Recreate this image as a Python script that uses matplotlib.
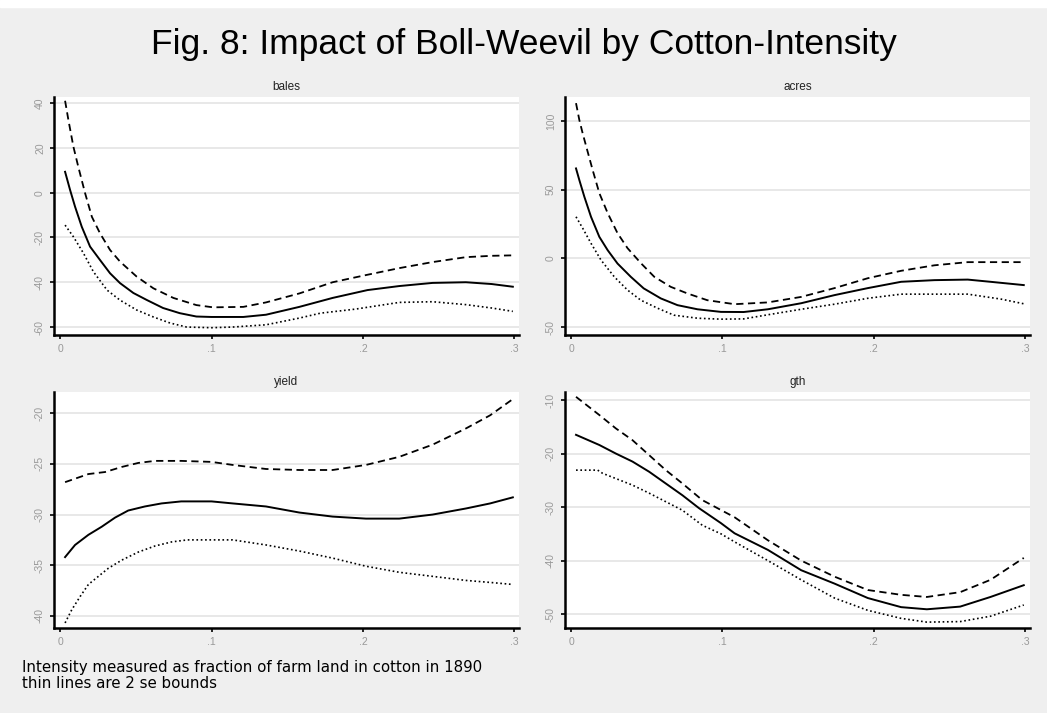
import numpy as np
import matplotlib
matplotlib.use('Agg')
import matplotlib.pyplot as plt
from matplotlib.patches import Rectangle

# values (each series has its own x points)
bales_est_x = [0.0033, 0.0066, 0.0099, 0.0143, 0.0198, 0.0264, 0.033, 0.0396, 0.0484, 0.0572, 0.068, 0.079, 0.09, 0.1, 0.121, 0.136, 0.158, 0.18, 0.203, 0.224, 0.246, 0.268, 0.285, 0.299]
bales_est = [9.3, 1.2, -6.3, -15.2, -24.1, -30.1, -36, -40.4, -44.8, -47.9, -51.5, -53.8, -55.3, -55.5, -55.5, -54.5, -51, -47, -43.5, -41.7, -40.3, -40, -40.8, -42]
bales_hi_x = [0.0033, 0.0055, 0.0088, 0.012, 0.0165, 0.021, 0.0264, 0.033, 0.0396, 0.0506, 0.0616, 0.0748, 0.09, 0.101, 0.121, 0.136, 0.158, 0.18, 0.202, 0.224, 0.246, 0.268, 0.285, 0.299]
bales_hi = [41, 32.4, 20.5, 11.6, -0.2, -10.8, -18.2, -25.6, -30.8, -37.5, -42.7, -47, -50.2, -51.2, -51, -49, -45, -40, -36.8, -33.7, -31, -28.8, -28.2, -28]
bales_lo_x = [0.0033, 0.0088, 0.0154, 0.022, 0.031, 0.0396, 0.0506, 0.0616, 0.0726, 0.0836, 0.1, 0.114, 0.136, 0.158, 0.172, 0.195, 0.224, 0.246, 0.268, 0.285, 0.299]
bales_lo = [-14.5, -19.7, -27, -35.3, -43.5, -48, -52.4, -55.5, -58.2, -60, -60.3, -60, -59, -56, -53.8, -52, -49, -48.7, -50, -51.5, -53]

acres_est_x = [0.0033, 0.0055, 0.0088, 0.0132, 0.0187, 0.0242, 0.0307, 0.0395, 0.048, 0.0593, 0.0703, 0.0835, 0.099, 0.114, 0.13, 0.152, 0.174, 0.196, 0.218, 0.24, 0.262, 0.277, 0.299]
acres_est = [65.5, 57, 44.9, 30.3, 15.7, 6, -3.7, -13.4, -21.8, -29.1, -34, -37, -38.9, -39, -37, -32.6, -26.7, -21.6, -17, -15.8, -15.4, -17, -19.4]
acres_hi_x = [0.0033, 0.0055, 0.0077, 0.011, 0.0143, 0.0187, 0.0242, 0.0307, 0.0373, 0.0461, 0.055, 0.0659, 0.0769, 0.09, 0.108, 0.13, 0.152, 0.174, 0.196, 0.218, 0.24, 0.262, 0.299]
acres_hi = [113, 100.7, 91, 77.6, 64.3, 47.5, 33, 18.4, 7.5, -3.4, -13.4, -20.7, -25.5, -30.4, -33.3, -32, -28, -21.6, -14.4, -9, -5, -2.7, -2.7]
acres_lo_x = [0.0033, 0.0077, 0.0132, 0.0198, 0.0286, 0.0373, 0.0461, 0.0571, 0.068, 0.0835, 0.099, 0.114, 0.13, 0.152, 0.174, 0.196, 0.218, 0.24, 0.262, 0.284, 0.299]
acres_lo = [30.3, 22, 11, -1.2, -13.4, -23, -30.4, -36.2, -41.3, -43.5, -44.2, -44, -41, -37, -33.3, -29, -26, -26, -26, -29.6, -33]

yield_est_x = [0.0033, 0.0099, 0.0187, 0.0275, 0.0363, 0.045, 0.056, 0.067, 0.08, 0.1, 0.114, 0.136, 0.158, 0.18, 0.202, 0.224, 0.246, 0.268, 0.284, 0.299]
yield_est = [-34.2, -33, -32, -31.2, -30.3, -29.6, -29.2, -28.9, -28.7, -28.7, -28.9, -29.2, -29.8, -30.2, -30.4, -30.4, -30, -29.4, -28.9, -28.3]
yield_hi_x = [0.0033, 0.0187, 0.0297, 0.0407, 0.0517, 0.0627, 0.08, 0.1, 0.114, 0.136, 0.158, 0.18, 0.202, 0.224, 0.246, 0.268, 0.284, 0.299]
yield_hi = [-26.8, -26, -25.8, -25.3, -24.9, -24.7, -24.7, -24.8, -25.1, -25.5, -25.6, -25.6, -25.1, -24.3, -23.1, -21.5, -20.2, -18.6]
yield_lo_x = [0.0033, 0.0077, 0.0132, 0.0187, 0.0253, 0.0319, 0.0407, 0.0517, 0.0627, 0.0737, 0.084, 0.1, 0.114, 0.136, 0.158, 0.18, 0.202, 0.224, 0.246, 0.268, 0.284, 0.299]
yield_lo = [-40.7, -39.4, -38.1, -36.9, -36.1, -35.3, -34.5, -33.7, -33.1, -32.7, -32.5, -32.5, -32.5, -33, -33.6, -34.3, -35.1, -35.7, -36.1, -36.5, -36.7, -36.9]

gth_est_x = [0.0033, 0.0187, 0.0296, 0.0406, 0.0516, 0.0626, 0.0736, 0.0845, 0.099, 0.108, 0.13, 0.152, 0.174, 0.196, 0.218, 0.235, 0.257, 0.277, 0.299]
gth_est = [-16.5, -18.4, -20, -21.5, -23.4, -25.6, -27.8, -30.2, -33, -34.9, -38, -41.8, -44.3, -47, -48.7, -49.1, -48.6, -46.8, -44.6]
gth_hi_x = [0.0033, 0.0187, 0.0296, 0.0406, 0.0516, 0.0626, 0.0736, 0.0867, 0.108, 0.13, 0.152, 0.174, 0.196, 0.218, 0.235, 0.257, 0.277, 0.299]
gth_hi = [-9.4, -12.8, -15.3, -17.5, -20.3, -23.1, -25.6, -28.7, -31.9, -36.2, -40, -43, -45.5, -46.4, -46.8, -45.9, -43.6, -39.5]
gth_lo_x = [0.0033, 0.0176, 0.0209, 0.0406, 0.0516, 0.0626, 0.0736, 0.0867, 0.099, 0.108, 0.13, 0.152, 0.174, 0.196, 0.218, 0.235, 0.257, 0.277, 0.299]
gth_lo = [-23.1, -23.1, -23.7, -25.9, -27.4, -29, -30.6, -33.4, -35, -36.5, -40, -43.6, -47, -49.3, -50.8, -51.5, -51.4, -50.4, -48.3]

panels = [
    ('bales', (bales_est_x, bales_est), (bales_hi_x, bales_hi), (bales_lo_x, bales_lo),
     [40, 20, 0, -20, -40, -60], (-63.6, 42.7)),
    ('acres', (acres_est_x, acres_est), (acres_hi_x, acres_hi), (acres_lo_x, acres_lo),
     [100, 50, 0, -50], (-55.8, 117.5)),
    ('yield', (yield_est_x, yield_est), (yield_hi_x, yield_hi), (yield_lo_x, yield_lo),
     [-20, -25, -30, -35, -40], (-41.2, -17.9)),
    ('gth', (gth_est_x, gth_est), (gth_hi_x, gth_hi), (gth_lo_x, gth_lo),
     [-10, -20, -30, -40, -50], (-52.6, -8.5)),
]
xticks = [0, 0.1, 0.2, 0.3]
xtick_labels = ['0', '.1', '.2', '.3']

plt.rcParams['font.family'] = ['Liberation Sans', 'DejaVu Sans']

fig = plt.figure(figsize=(10.47, 7.13), dpi=100, facecolor='#efefef')
fig.add_artist(Rectangle((0, 1 - 7 / 713), 1, 7 / 713, transform=fig.transFigure,
                         color='white', zorder=0))

boxes = [
    [0.0516, 0.530, 0.444, 0.334],
    [0.5396, 0.530, 0.444, 0.334],
    [0.0516, 0.1192, 0.444, 0.331],
    [0.5396, 0.1192, 0.444, 0.331],
]

for box, (name, est, hi, lo, yt, ylim) in zip(boxes, panels):
    ax = fig.add_axes(box)
    ax.set_facecolor('white')
    ax.plot(*est, color='black', lw=1.4, ls='-')
    ax.plot(*hi, color='black', lw=1.3, ls=(0, (4, 2.5)))
    ax.plot(*lo, color='black', lw=1.2, ls=(0, (1, 1.6)))
    ax.set_xlim(-0.004, 0.303)
    ax.set_ylim(*ylim)
    ax.set_yticks(yt)
    ax.set_yticklabels([str(v) for v in yt], rotation=90, va='center')
    ax.set_xticks(xticks)
    ax.set_xticklabels(xtick_labels)
    ax.tick_params(colors='black', labelcolor='#999999', labelsize=7.5, length=3, width=1.2)
    ax.grid(True, axis='y', color='#e4e4e4', lw=1.2)
    ax.set_axisbelow(True)
    for s in ['top', 'right']:
        ax.spines[s].set_visible(False)
    for s in ['left', 'bottom']:
        ax.spines[s].set_linewidth(1.8)
    ax.set_title(name, fontsize=8.5, color='#222222', pad=5)

fig.text(0.5, 0.937, 'Fig. 8: Impact of Boll-Weevil by Cotton-Intensity',
         ha='center', va='center', fontsize=25.5)
fig.text(0.021, 0.064, 'Intensity measured as fraction of farm land in cotton in 1890',
         ha='left', va='center', fontsize=10.8, family='DejaVu Sans')
fig.text(0.021, 0.041, 'thin lines are 2 se bounds', ha='left', va='center',
         fontsize=10.8, family='DejaVu Sans')

fig.savefig('out.png', dpi=100, facecolor=fig.get_facecolor())
